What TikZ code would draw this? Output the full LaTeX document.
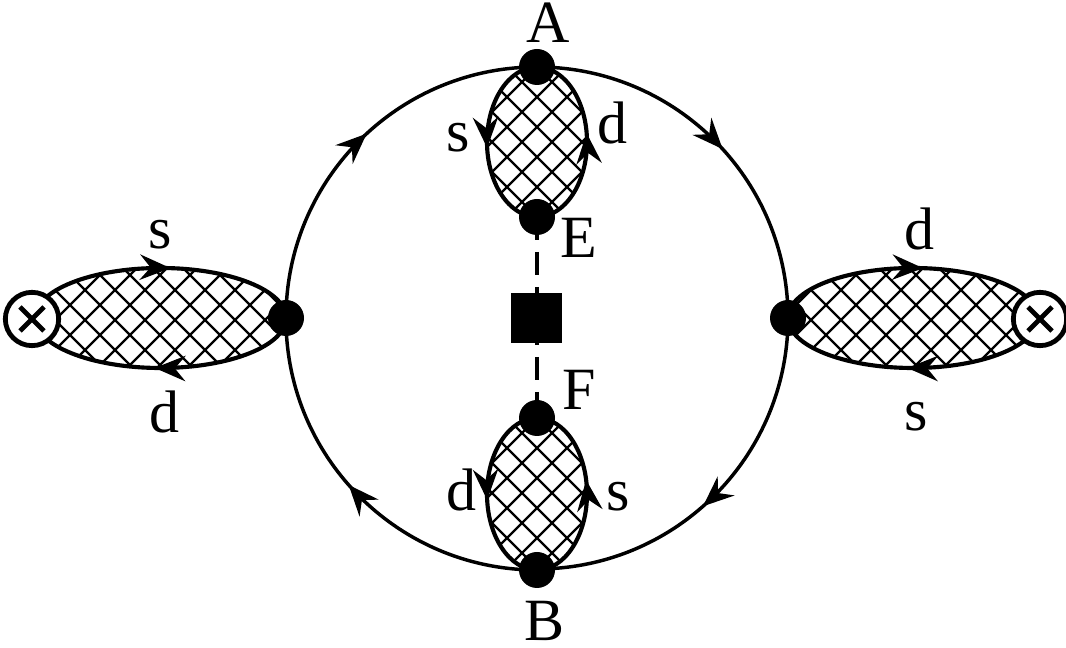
\documentclass[tikz,border=0pt]{standalone}
\usepackage{fontspec}
\setmainfont{Liberation Serif}
\usetikzlibrary{arrows.meta,decorations.markings}
\tikzset{
  x=.75pt,y=.75pt,
  flow/.style={line width=2.6pt,postaction={decorate},decoration={markings,mark=at position #1 with {\arrow{Stealth[length=23pt,width=19pt,inset=8pt]}}}},
  loopline/.style={line width=3.1pt,postaction={decorate},decoration={markings,mark=at position #1 with {\arrow{Stealth[length=23pt,width=19pt,inset=8pt]}}}},
  dot/.style={circle,fill=black,minimum size=27pt,inner sep=0pt},
  vtx/.style={circle,draw=black,fill=white,line width=3.6pt,minimum size=40pt,inner sep=0pt},
  opbox/.style={rectangle,fill=black,minimum width=38.25pt,minimum height=37.5pt,inner sep=0pt},
  lab/.style={inner sep=0pt,font=\fontsize{45}{45}\selectfont},
  hatchline/.style={line width=1.8pt},
  crossline/.style={line width=3.6pt},
  dashline/.style={line width=2.3pt,dash pattern=on 17.25pt off 9pt},
}
\newcommand{\hatchfill}[6]{%
  \begin{scope}
    \clip (#1,#2) ellipse [x radius=#3,y radius=#4];
    \foreach \k in {-14,...,14}{
      \draw[hatchline] ({#5+30*\k-300},{#6-300}) -- ({#5+30*\k+300},{#6+300});
      \draw[hatchline] ({#5+30*\k-300},{#6+300}) -- ({#5+30*\k+300},{#6-300});
    }
  \end{scope}}
\begin{document}
\begin{tikzpicture}
\useasboundingbox (0,0) rectangle (1066,648);
\coordinate (A) at (537,581);
\coordinate (E) at (537,431);
\coordinate (F) at (537,230);
\coordinate (B) at (537,78);
\coordinate (L) at (286,330);
\coordinate (R) at (788,330);
\coordinate (XL) at (32,329);
\coordinate (XR) at (1040,329);
% hatching
\hatchfill{537}{506}{50}{75}{537}{551}
\hatchfill{537}{154}{50}{76}{537}{200}
\hatchfill{160}{330}{125}{50}{115}{328}
\hatchfill{913}{330}{125}{50}{871}{328}
% big circle
\draw[flow=.525] (L) arc[start angle=180,end angle=90,radius=251];
\draw[flow=.53] (A) arc[start angle=90,end angle=0,radius=251];
\draw[flow=.54] (R) arc[start angle=0,end angle=-90,radius=251];
\draw[flow=.54] (B) arc[start angle=270,end angle=180,radius=251];
% top loop
\draw[loopline=.53] (A) arc[start angle=90,end angle=270,x radius=50,y radius=75];
\draw[loopline=.545] (E) arc[start angle=-90,end angle=90,x radius=50,y radius=75];
% bottom loop
\draw[loopline=.53] (F) arc[start angle=90,end angle=270,x radius=50,y radius=76];
\draw[loopline=.57] (B) arc[start angle=-90,end angle=90,x radius=50,y radius=76];
% left loop
\draw[loopline=.535] (35,330) arc[start angle=180,end angle=0,x radius=125.5,y radius=50];
\draw[loopline=.52] (L) arc[start angle=0,end angle=-180,x radius=125.5,y radius=50];
% right loop
\draw[loopline=.535] (R) arc[start angle=180,end angle=0,x radius=125,y radius=50];
\draw[loopline=.52] (1038,330) arc[start angle=0,end angle=-180,x radius=125,y radius=50];
% dashed line
\draw[dashline] (E) -- (F);
% vertices
\node[dot] (nA) at (A) {};
\node[dot] (nE) at (E) {};
\node[dot] (nF) at (F) {};
\node[dot] (nB) at (B) {};
\node[dot] (nL) at (L) {};
\node[dot] (nR) at (R) {};
\node[opbox] (op) at (536.5,330) {};
\node[vtx] (vL) at (XL) {};
\node[vtx] (vR) at (XR) {};
\draw[crossline] (vL.center) ++(-12,-12) -- ++(24,24) ++(-24,0) -- ++(24,-24);
\draw[crossline] (vR.center) ++(-12,-12) -- ++(24,24) ++(-24,0) -- ++(24,-24);
% labels
\node[lab] (tA) at (548,625) {A};
\node[lab] (tB) at (545,27) {B};
\node[lab] (tE) at (579,410) {E};
\node[lab] (tF) at (579,258) {F};
\node[lab] (s1) at (458,510) {s};
\node[lab] (d1) at (612,525) {d};
\node[lab] (d2) at (461,158) {d};
\node[lab] (s2) at (618,151) {s};
\node[lab] (s3) at (160,413) {s};
\node[lab] (d3) at (164,236) {d};
\node[lab] (d4) at (919,419) {d};
\node[lab] (s4) at (916,231) {s};
\end{tikzpicture}
\end{document}
